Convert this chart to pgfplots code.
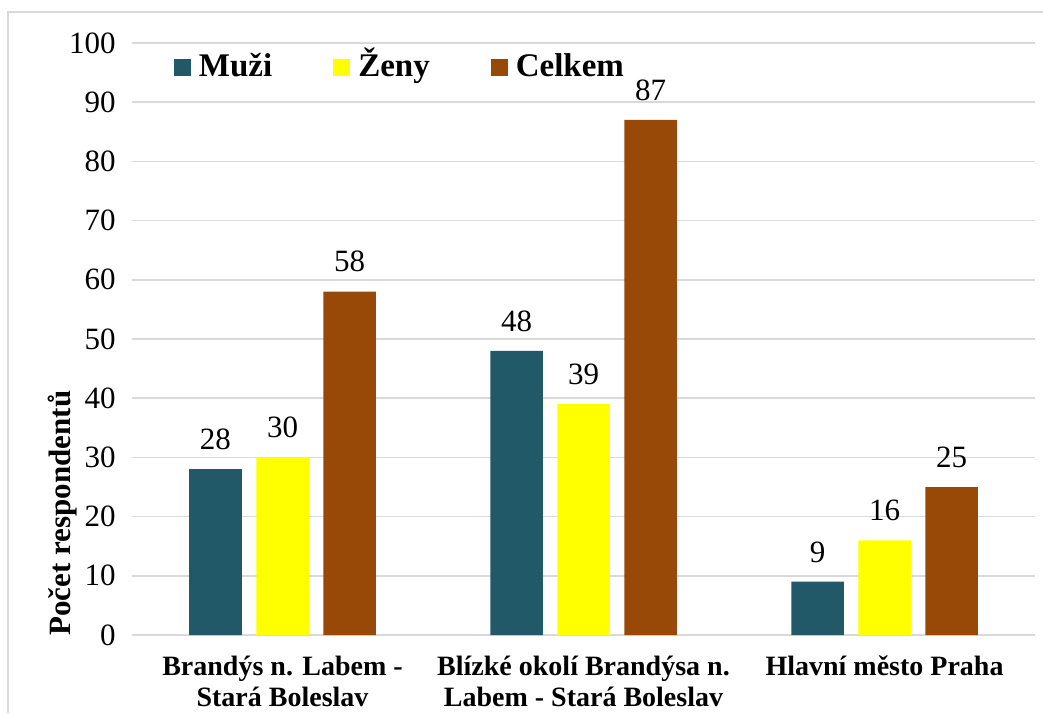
\documentclass[border=0pt]{standalone}
\usepackage{fontspec}
\setmainfont{Liberation Serif}
\usepackage{pgfplots}
\pgfplotsset{compat=1.18}
\definecolor{muzi}{HTML}{215968}
\definecolor{zeny}{HTML}{FFFF00}
\definecolor{celkem}{HTML}{984807}
\definecolor{gridc}{HTML}{D9D9D9}

\begin{document}
\begin{tikzpicture}
\useasboundingbox (0,0) rectangle (521.5pt,356.5pt);
\draw[gridc, line width=0.8pt] (4pt,0) -- (4pt,350.5pt) -- (521.5pt,350.5pt);
\begin{axis}[
  at={(66pt,39pt)}, anchor=south west,
  scale only axis, width=451.5pt, height=296pt,
  ybar=7.25pt, bar width=26.25pt,
  xmin=-0.5, xmax=2.5, ymin=0, ymax=100,
  xtick={0,1,2},
  xticklabels={{Brandýs n. Labem -\\Stará Boleslav},{Blízké okolí Brandýsa n.\\Labem - Stará Boleslav},{Hlavní město Praha}},
  xticklabel style={align=center, font=\fontsize{14}{15.5}\selectfont\bfseries, inner sep=0pt, yshift=-6pt},
  ytick={0,10,...,100},
  yticklabel style={font=\fontsize{15.5}{18}\selectfont, inner sep=0pt, xshift=-8pt},
  /pgf/number format/assume math mode=true,
  ymajorgrids, grid style={gridc, line width=0.8pt},
  axis line style={draw=none}, tick style={draw=none},
  ylabel={Počet respondentů},
  ylabel style={font=\fontsize{15.5}{18}\selectfont\bfseries, at={(axis description cs:-0.068,0.206)}, anchor=base, rotate=0},
  nodes near coords,
  nodes near coords style={font=\fontsize{15.5}{18}\selectfont, anchor=south, inner sep=0pt, yshift=9.5pt},
  legend columns=3,
  legend style={draw=none, fill=none, inner sep=0pt, outer sep=0pt,
    at={(axis description cs:0.0465,0.958)}, anchor=west,
    font=\fontsize{16.5}{19}\selectfont\bfseries,
    nodes={text height=11.5pt, text depth=3pt},
    /tikz/every odd column/.append style={column sep=2pt},
    /tikz/every even column/.append style={column sep=28.5pt}},
]
\addplot[fill=muzi, draw=none, legend image code/.code={\fill[muzi] (0pt,-4.25pt) rectangle (8.5pt,4.25pt);}]
  coordinates {(0,28) (1,48) (2,9)};
\addplot[fill=zeny, draw=none, legend image code/.code={\fill[zeny] (0pt,-4.25pt) rectangle (8.5pt,4.25pt);}]
  coordinates {(0,30) (1,39) (2,16)};
\addplot[fill=celkem, draw=none, legend image code/.code={\fill[celkem] (0pt,-4.25pt) rectangle (8.5pt,4.25pt);}]
  coordinates {(0,58) (1,87) (2,25)};
\legend{Muži,Ženy,Celkem}
\end{axis}
\end{tikzpicture}
\end{document}
